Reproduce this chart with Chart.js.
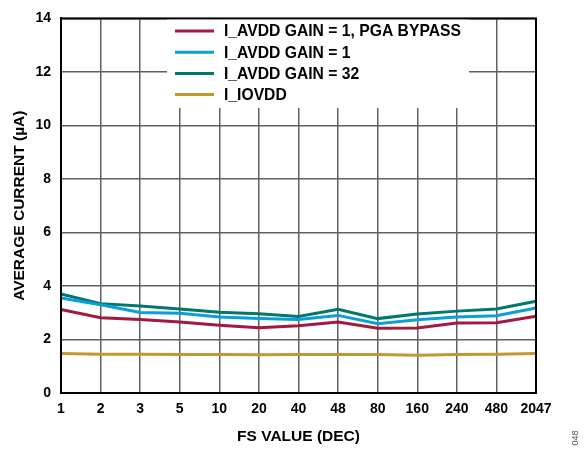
<!DOCTYPE html>
<html>
<head>
<meta charset="utf-8">
<script src="https://cdn.jsdelivr.net/npm/chart.js@4.4.1/dist/chart.umd.min.js"></script>
<style>
  html, body { margin: 0; padding: 0; background: #fff; }
  #wrap { width: 587px; height: 451px; }
</style>
</head>
<body>
<div id="wrap"><canvas id="c" width="587" height="451"></canvas></div>
<script>
// FS value categories (x axis) and measured currents in uA
const fsValues = ['1', '2', '3', '5', '10', '20', '40', '48', '80', '160', '240', '480', '2047'];
const avddPgaBypass = [3.12, 2.81, 2.75, 2.65, 2.53, 2.44, 2.51, 2.65, 2.42, 2.43, 2.62, 2.63, 2.87];
const avddGain1 = [3.55, 3.30, 3.01, 2.98, 2.84, 2.78, 2.75, 2.90, 2.59, 2.74, 2.84, 2.89, 3.18];
const avddGain32 = [3.70, 3.34, 3.25, 3.14, 3.02, 2.96, 2.86, 3.13, 2.78, 2.95, 3.06, 3.14, 3.43];
const iovdd = [1.48, 1.45, 1.45, 1.44, 1.44, 1.43, 1.44, 1.44, 1.44, 1.41, 1.44, 1.45, 1.48];
const yTicks = [0, 2, 4, 6, 8, 10, 12, 14];

const seriesNames = ['I_AVDD GAIN = 1, PGA BYPASS', 'I_AVDD GAIN = 1', 'I_AVDD GAIN = 32', 'I_IOVDD'];
const seriesColors = ['#a3193f', '#0a9fd8', '#00786e', '#c6972e'];
const seriesData = [avddPgaBypass, avddGain1, avddGain32, iovdd];

const FONT = 'Liberation Sans, Arial, sans-serif';

// white legend box drawn inside the plot, over the grid
const boxLegend = {
    id: 'boxLegend',
    beforeDatasetsDraw(chart) {
        const ctx = chart.ctx;
        ctx.save();
        ctx.fillStyle = '#fff';
        ctx.fillRect(167, 17, 302, 91);
        ctx.font = 'bold 15.7px ' + FONT;
        ctx.textBaseline = 'middle';
        seriesNames.forEach((name, i) => {
            const y = 31 + i * 21.2;
            ctx.strokeStyle = seriesColors[i];
            ctx.lineWidth = 3;
            ctx.beginPath();
            ctx.moveTo(175, y);
            ctx.lineTo(214, y);
            ctx.stroke();
            ctx.fillStyle = '#000';
            ctx.fillText(name, 224, y + 1);
        });
        ctx.restore();
    },
    afterDraw(chart) {
        const a = chart.chartArea;
        const ctx = chart.ctx;
        ctx.save();
        ctx.strokeStyle = '#000';
        ctx.lineWidth = 2;
        ctx.strokeRect(a.left, a.top, a.right - a.left, a.bottom - a.top);
        // figure number at the right edge
        ctx.translate(576, 438);
        ctx.rotate(-Math.PI / 2);
        ctx.font = '9px ' + FONT;
        ctx.fillStyle = '#555';
        ctx.textAlign = 'center';
        ctx.textBaseline = 'middle';
        ctx.fillText('048', 0, 0);
        ctx.restore();
    }
};

const ctx = document.getElementById('c').getContext('2d');
const chart = new Chart(ctx, {
    type: 'line',
    data: {
        labels: fsValues,
        datasets: seriesNames.map((name, i) => ({
            label: name,
            data: seriesData[i],
            borderColor: seriesColors[i],
            backgroundColor: seriesColors[i],
            borderWidth: 3,
            pointRadius: 0,
            tension: 0,
            fill: false
        }))
    },
    options: {
        responsive: false,
        animation: false,
        layout: { padding: { top: 13, right: 51, bottom: 0, left: 0 } },
        plugins: {
            legend: { display: false },
            tooltip: { enabled: false }
        },
        scales: {
            x: {
                offset: false,
                grid: { color: '#606060', lineWidth: 1.5, drawTicks: false },
                border: { color: '#000', width: 2 },
                ticks: {
                    color: '#000',
                    padding: 8,
                    maxRotation: 0,
                    autoSkip: false,
                    font: { family: FONT, size: 14, weight: 'bold' }
                },
                title: {
                    display: true,
                    text: 'FS VALUE (DEC)',
                    color: '#000',
                    padding: { top: 0, bottom: 5 },
                    font: { family: FONT, size: 15.5, weight: 'bold' }
                },
                afterFit(axis) { axis.height = 58; }
            },
            y: {
                min: 0,
                max: 14,
                afterBuildTicks(axis) { axis.ticks = yTicks.map(v => ({ value: v })); },
                grid: { color: '#606060', lineWidth: 1.5, drawTicks: false },
                border: { color: '#000', width: 2 },
                ticks: {
                    color: '#000',
                    padding: 10,
                    font: { family: FONT, size: 14, weight: 'bold' }
                },
                title: {
                    display: true,
                    text: 'AVERAGE CURRENT (µA)',
                    color: '#000',
                    padding: { top: 10, bottom: 0 },
                    font: { family: FONT, size: 15.5, weight: 'bold' }
                },
                afterFit(axis) { axis.width = 61; }
            }
        }
    },
    plugins: [boxLegend]
});
</script>
</body>
</html>
